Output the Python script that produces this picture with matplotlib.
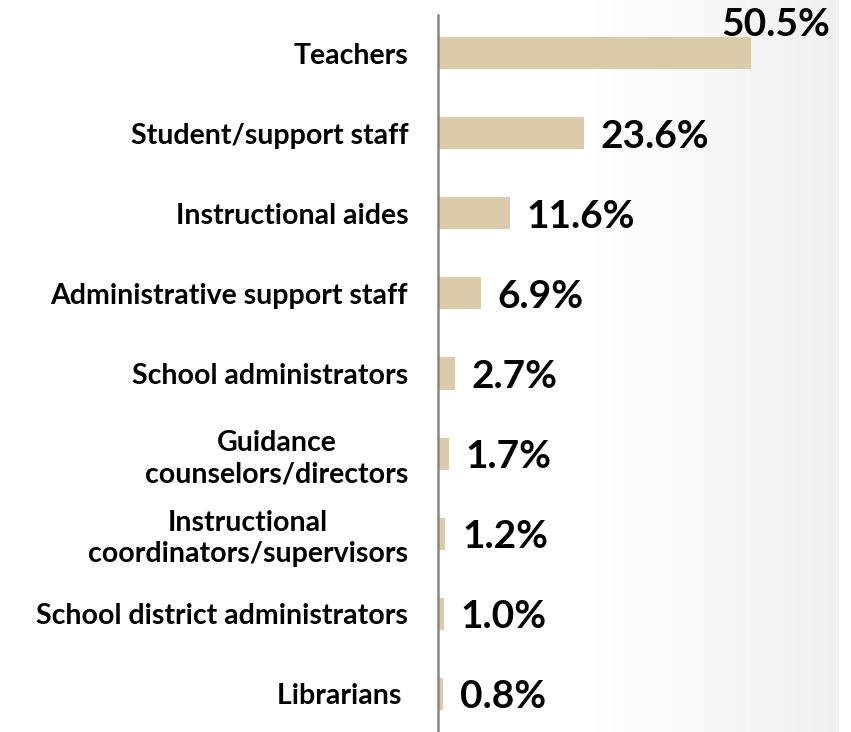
import numpy as np
import matplotlib
matplotlib.use("Agg")
import matplotlib.pyplot as plt

plt.rcParams['font.family'] = ['Lato', 'DejaVu Sans']

categories = ["Teachers", "Student/support staff", "Instructional aides",
              "Administrative support staff", "School administrators",
              "Guidance\ncounselors/directors",
              "Instructional\ncoordinators/supervisors",
              "School district administrators", "Librarians "]
shares = [50.5, 23.6, 11.6, 6.9, 2.7, 1.7, 1.2, 1.0, 0.8]
value_labels = ["50.5%", "23.6%", "11.6%", "6.9%", "2.7%", "1.7%", "1.2%", "1.0%", "0.8%"]

W, H = 851, 732
fig = plt.figure(figsize=(W / 100, H / 100), dpi=100)

# grey gradient on the right side of the slide
bg = fig.add_axes([0, 0, 1, 1], zorder=0)
xs = np.linspace(0, 1, W)
t = np.clip((xs * W - 580) / (839 - 580), 0, 1)
shade = 1 - 0.065 * t
shade[xs * W > 839] = 1.0
img = np.tile(shade, (10, 1))
bg.imshow(img, cmap='gray', vmin=0, vmax=1, aspect='auto', extent=[0, 1, 0, 1])
bg.axis('off')

left = 438 / W
ax = fig.add_axes([left, 0, 1 - left, 1 - 15 / H], zorder=1)
ax.set_facecolor('none')

y = np.arange(len(categories))
ax.barh(y, shares, height=0.4, color='#dccbab', zorder=2)
ax.set_xlim(0, (W - 438) / 6.2)
ax.set_ylim(8.48, -0.48)

for s in ['top', 'right', 'bottom']:
    ax.spines[s].set_visible(False)
ax.spines['left'].set_color('#868686')
ax.spines['left'].set_linewidth(1.8)
ax.set_xticks([])
ax.set_yticks(y)
ax.set_yticklabels(categories, fontsize=20.5, fontweight='bold',
                   multialignment='center', linespacing=1.25)
ax.tick_params(axis='y', length=0, pad=21.5)

for i, (v, lab) in enumerate(zip(shares, value_labels)):
    if v > 40:
        # too long to fit to the right of its bar, so it sits above the bar end
        ax.annotate(lab, (ax.get_xlim()[1], i), xytext=(-15, 21), textcoords='offset points',
                    ha='right', va='center', fontsize=28, fontweight='bold')
    else:
        ax.annotate(lab, (v, i), xytext=(12, -2), textcoords='offset points',
                    ha='left', va='center', fontsize=28, fontweight='bold')

fig.savefig('out.png', dpi=100)
